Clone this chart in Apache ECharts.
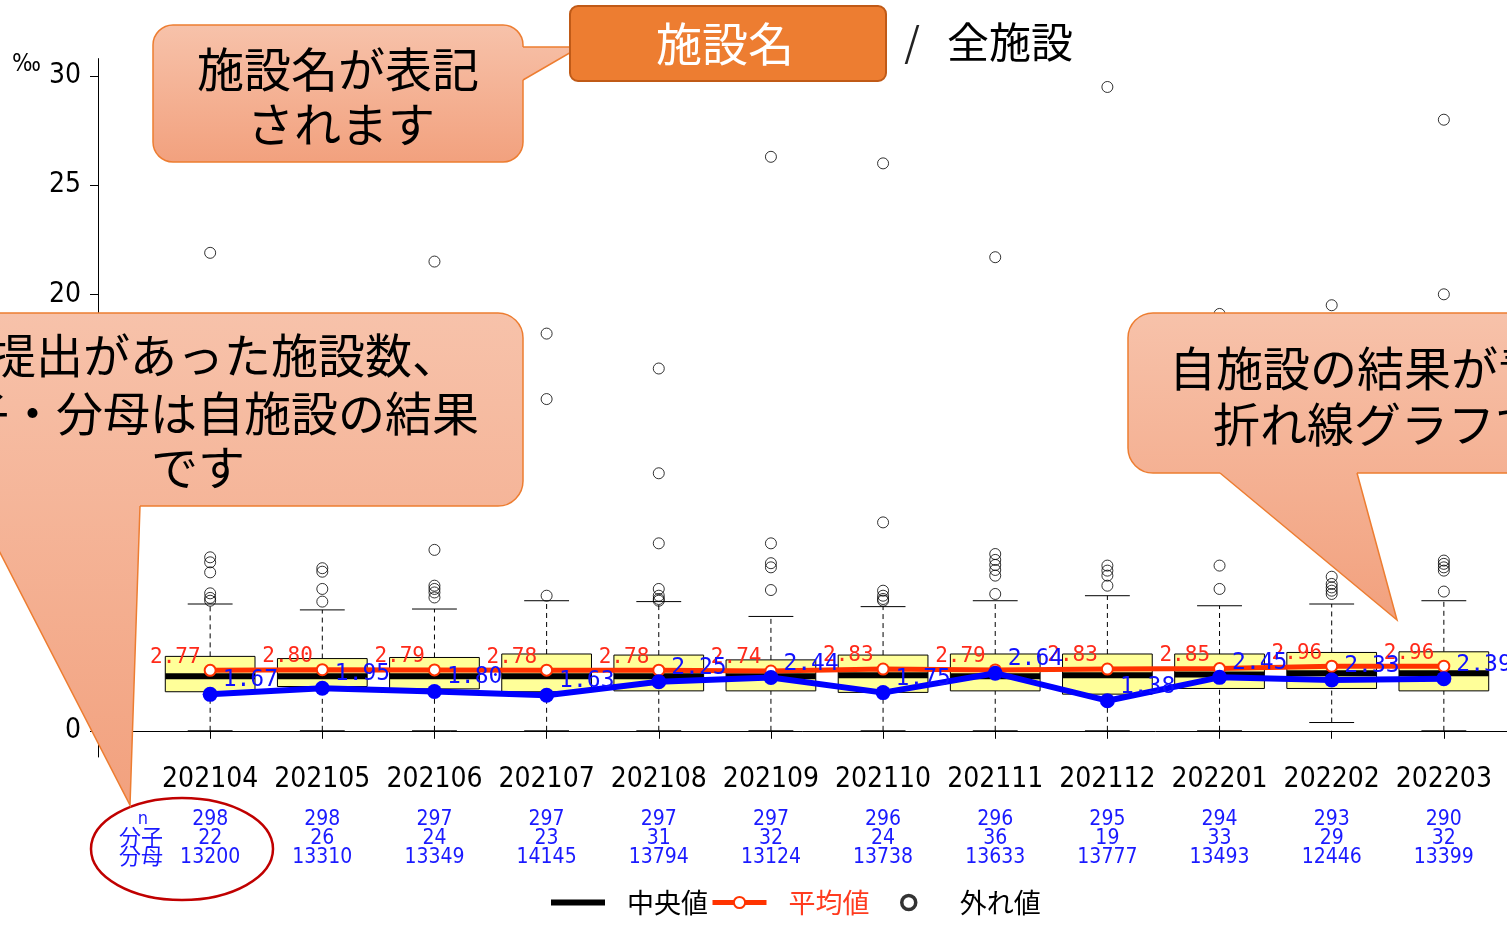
<!DOCTYPE html>
<html><head><meta charset="utf-8">
<script src="https://cdn.jsdelivr.net/npm/echarts@6/dist/echarts.min.js"></script>
<style>html,body{margin:0;padding:0;background:#fff}#c{width:1507px;height:934px}</style>
</head><body><div id="c"></div>
<script>
// ---------- data ----------
const categories = ['202104','202105','202106','202107','202108','202109','202110','202111','202112','202201','202202','202203'];
const facilityN = [298,298,297,297,297,297,296,296,295,294,293,290];
const numerators = [22,26,24,23,31,32,24,36,19,33,29,32];
const denominators = [13200,13310,13349,14145,13794,13124,13738,13633,13777,13493,12446,13399];
const whiskerLow  = [0,0,0,0,0,0,0,0,0,0,0.38,0];
const q1Values    = [1.79,2.03,1.92,1.79,1.83,1.83,1.76,1.83,1.68,1.94,1.94,1.83];
const medianValues= [2.50,2.50,2.50,2.50,2.50,2.50,2.55,2.50,2.55,2.58,2.64,2.64];
const q3Values    = [3.41,3.31,3.36,3.52,3.47,3.25,3.47,3.52,3.52,3.52,3.59,3.62];
const whiskerHigh = [5.81,5.54,5.58,5.96,5.92,5.24,5.69,5.96,6.19,5.73,5.81,5.96];
const meanValues  = [2.77,2.80,2.79,2.78,2.78,2.74,2.83,2.79,2.83,2.85,2.96,2.96];
const selfValues  = [1.67,1.95,1.80,1.63,2.25,2.44,1.75,2.64,1.38,2.45,2.33,2.39];
const outliers = [
  [21.9,7.95,7.72,7.26,6.30,6.09,5.96],
  [7.45,7.29,6.50,5.92],
  [21.5,8.29,6.65,6.50,6.34,6.11],
  [18.2,15.2,6.19],
  [16.6,11.8,8.59,6.50,6.19,6.04,5.96],
  [26.3,8.59,7.68,7.49,6.45],
  [26.0,9.55,6.42,6.19,6.04,5.96],
  [21.7,8.10,7.83,7.60,7.37,7.11,6.27],
  [29.5,7.57,7.34,7.11,6.65],
  [19.1,7.57,6.50],
  [19.5,7.06,6.73,6.57,6.42,6.27],
  [28.0,20.0,7.80,7.65,7.49,7.34,6.38]
];
const yTicks = [0,5,10,15,20,25,30];

// ---------- build ----------
const NARROW = "'DejaVu Sans Condensed','Liberation Sans Narrow',sans-serif";
const JP = "'Noto Sans CJK JP',sans-serif";
const MONO = "'DejaVu Sans Mono','Liberation Mono',monospace";
const boxData = categories.map((c,i)=>[i+1, whiskerLow[i], q1Values[i], medianValues[i], q3Values[i], whiskerHigh[i]]);
const meanData = categories.map((c,i)=>[i+1, meanValues[i]]);
const selfData = categories.map((c,i)=>[i+1, selfValues[i]]);
const outlierData = [];
outliers.forEach((arr,i)=>arr.forEach(v=>outlierData.push([i+1, v])));

function renderBox(params, api){
  const x = api.value(0);
  const lo = api.coord([x, api.value(1)]);
  const q1 = api.coord([x, api.value(2)]);
  const md = api.coord([x, api.value(3)]);
  const q3 = api.coord([x, api.value(4)]);
  const hi = api.coord([x, api.value(5)]);
  const bw = api.size([1,0])[0]*0.8;
  const cw = bw/2;
  const cx = lo[0];
  const dash = {stroke:'#000', lineWidth:1, lineDash:[5,4]};
  const solid = {stroke:'#000', lineWidth:1};
  return {type:'group', children:[
    {type:'line', shape:{x1:cx,y1:q3[1],x2:cx,y2:hi[1]}, style:dash},
    {type:'line', shape:{x1:cx,y1:lo[1],x2:cx,y2:q1[1]}, style:dash},
    {type:'line', shape:{x1:cx-cw/2,y1:hi[1],x2:cx+cw/2,y2:hi[1]}, style:solid},
    {type:'line', shape:{x1:cx-cw/2,y1:lo[1],x2:cx+cw/2,y2:lo[1]}, style:solid},
    {type:'rect', shape:{x:cx-bw/2,y:q3[1],width:bw,height:q1[1]-q3[1]}, style:{fill:'#ffff99',stroke:'#000',lineWidth:1}},
    {type:'line', shape:{x1:cx-bw/2,y1:md[1],x2:cx+bw/2,y2:md[1]}, style:{stroke:'#000',lineWidth:6}}
  ]};
}

function grad(y1,y2,c1,c2){
  return new echarts.graphic.LinearGradient(0,y1,0,y2,[{offset:0,color:c1},{offset:1,color:c2}],true);
}
const CS = '#ed7d31';
function callout(rect, tail, y1, y2){
  const g = grad(y1,y2,'#f7c2aa','#f2a17e');
  return [
    {type:'rect', z:100, shape:{x:rect[0],y:rect[1],width:rect[2],height:rect[3],r:rect[4]}, style:{fill:g,stroke:CS,lineWidth:1.5}},
    {type:'polygon', z:101, shape:{points:[tail.p1, tail.tip, tail.p2, tail.i2, tail.i1]}, style:{fill:g}},
    {type:'polyline', z:102, shape:{points:[tail.p1, tail.tip, tail.p2]}, style:{stroke:CS,lineWidth:1.5,fill:null}}
  ];
}
function txt(text,x,y,size,color,align,z){
  return {type:'text', z:z||110, x:x, y:y, style:{text:text, fontSize:size, fontFamily:JP, fill:color, align:align||'center', verticalAlign:'middle'}};
}

const graphics = [].concat(
  callout([153,25,370,137,20], {p1:[523,47], tip:[580,47], p2:[523,80], i1:[519,47], i2:[519,80]}, 25, 162),
  [
    {type:'rect', z:120, shape:{x:570,y:6,width:316,height:75,r:8}, style:{fill:'#ed7d31',stroke:'#c05a17',lineWidth:2}},
    txt('施設名',725,44,46,'#fff','center',130),
    txt('/',912,42,40,'#222'),
    txt('全施設',1010,42,42,'#000'),
    txt('施設名が表記',338,69,47,'#000'),
    txt('されます',341,124,47,'#000')
  ],
  callout([-129,313,652,193,25], {p1:[-24,506], tip:[130,805], p2:[140,506], i1:[-24,502], i2:[140,502]}, 313, 805),
  [
    txt('提出があった施設数、',224,355,47,'#000'),
    txt('分子・分母は自施設の結果',197,413,47,'#000'),
    txt('です',198,467,47,'#000')
  ],
  callout([1128,313,640,160,25], {p1:[1220,473], tip:[1397,620], p2:[1357,473], i1:[1220,469], i2:[1357,469]}, 313, 620),
  [
    txt('自施設の結果が青の',1169,368,47,'#000','left'),
    txt('折れ線グラフで表示',1213,424,47,'#000','left'),
    {type:'ellipse', z:90, shape:{cx:182,cy:849,rx:91,ry:51}, style:{fill:null,stroke:'#c00000',lineWidth:2.5}},
    {type:'text', z:95, x:143, y:819, style:{text:'n', fontSize:18, fontFamily:NARROW, fill:'#1a1aff', align:'center', verticalAlign:'middle'}},
    {type:'text', z:95, x:141, y:837, style:{text:'分子', fontSize:22, fontFamily:JP, fill:'#1a1aff', align:'center', verticalAlign:'middle'}},
    {type:'text', z:95, x:141, y:856, style:{text:'分母', fontSize:22, fontFamily:JP, fill:'#1a1aff', align:'center', verticalAlign:'middle'}}
  ]
);

const chart = echarts.init(document.getElementById('c'), null, {renderer:'canvas'});
chart.setOption({
  animation:false,
  backgroundColor:'#fff',
  grid:{left:98, top:58.6, width:1458, height:698.4, outerBoundsMode:'none', containLabel:false},
  xAxis:[{
    type:'value', min:0, max:13, interval:1,
    axisLine:{show:true, lineStyle:{color:'#000', width:1}},
    axisTick:{show:true, inside:false, length:8, lineStyle:{color:'#000'}},
    splitLine:{show:false},
    axisLabel:{margin:9, fontFamily:NARROW, fontSize:28, color:'#000',
      formatter:v=> (v>=1 && v<=categories.length && Number.isInteger(v)) ? categories[v-1] : ''}
  },{
    type:'value', min:0, max:13, interval:1, position:'bottom', offset:47,
    axisLine:{show:false}, axisTick:{show:false}, splitLine:{show:false},
    axisLabel:{margin:6.5, fontFamily:NARROW, fontSize:21, color:'#1a1aff', lineHeight:19,
      formatter:v=>{ if(v>=1 && v<=categories.length && Number.isInteger(v)){const i=v-1; return facilityN[i]+'\n'+numerators[i]+'\n'+denominators[i];} return ''; }}
  }],
  yAxis:{
    type:'value', min:-1.2, max:30.8,
    name:'‰', nameLocation:'end', nameGap:-6,
    nameTextStyle:{fontFamily:NARROW, fontSize:24, color:'#000', align:'right', verticalAlign:'middle', padding:[0,57,0,0]},
    axisLine:{show:true, lineStyle:{color:'#000', width:1}},
    axisTick:{show:true, length:8, customValues:yTicks, lineStyle:{color:'#000'}},
    axisLabel:{margin:17, fontFamily:NARROW, fontSize:28, color:'#000', customValues:yTicks},
    splitLine:{show:false}
  },
  legend:[{
    left:548, top:889, padding:0, itemGap:2, itemWidth:54, itemHeight:14,
    textStyle:{fontFamily:JP, fontSize:27, color:'#000', padding:[0,0,0,17]},
    data:[
      {name:'中央値', lineStyle:{width:6, color:'#000'}, itemStyle:{opacity:0}},
      {name:'平均値', lineStyle:{width:5, color:'#ff3300'}, textStyle:{color:'#ff3b1f'}}
    ]
  },{
    left:900, top:889, padding:0, itemWidth:14, itemHeight:14,
    textStyle:{fontFamily:JP, fontSize:27, color:'#000', padding:[0,0,0,39]},
    data:[
      {name:'外れ値', itemStyle:{color:'transparent', borderColor:'#000', borderWidth:3.5}}
    ]
  }],
  series:[
    {name:'box', type:'custom', renderItem:renderBox, data:boxData, z:2, encode:{x:0, y:[1,2,3,4,5]}},
    {name:'外れ値', type:'scatter', data:outlierData, symbol:'circle', symbolSize:11, z:2,
      itemStyle:{color:'transparent', borderColor:'#000', borderWidth:1}},
    {name:'中央値', type:'line', data:[], symbol:'none', lineStyle:{color:'#000', width:6}, itemStyle:{color:'#000'}},
    {name:'平均値', type:'line', data:meanData, z:3, symbol:'emptyCircle', symbolSize:11,
      lineStyle:{color:'#ff3300', width:5}, itemStyle:{color:'#ff3300', borderColor:'#ff3300', borderWidth:3.5},
      label:{show:true, position:'left', distance:3, offset:[0,-13], fontFamily:MONO, fontSize:21, color:'#ff2a1a',
        formatter:p=>p.value[1].toFixed(2)}},
    {name:'自施設', type:'line', data:selfData, z:4, symbol:'circle', symbolSize:15,
      lineStyle:{color:'#0000ff', width:6}, itemStyle:{color:'#0000ff'},
      label:{show:true, position:'right', distance:5, offset:[0,-14], fontFamily:MONO, fontSize:23, color:'#1010ff',
        formatter:p=>p.value[1].toFixed(2)}}
  ],
  graphic:{elements:graphics}
});
</script>
</body></html>
